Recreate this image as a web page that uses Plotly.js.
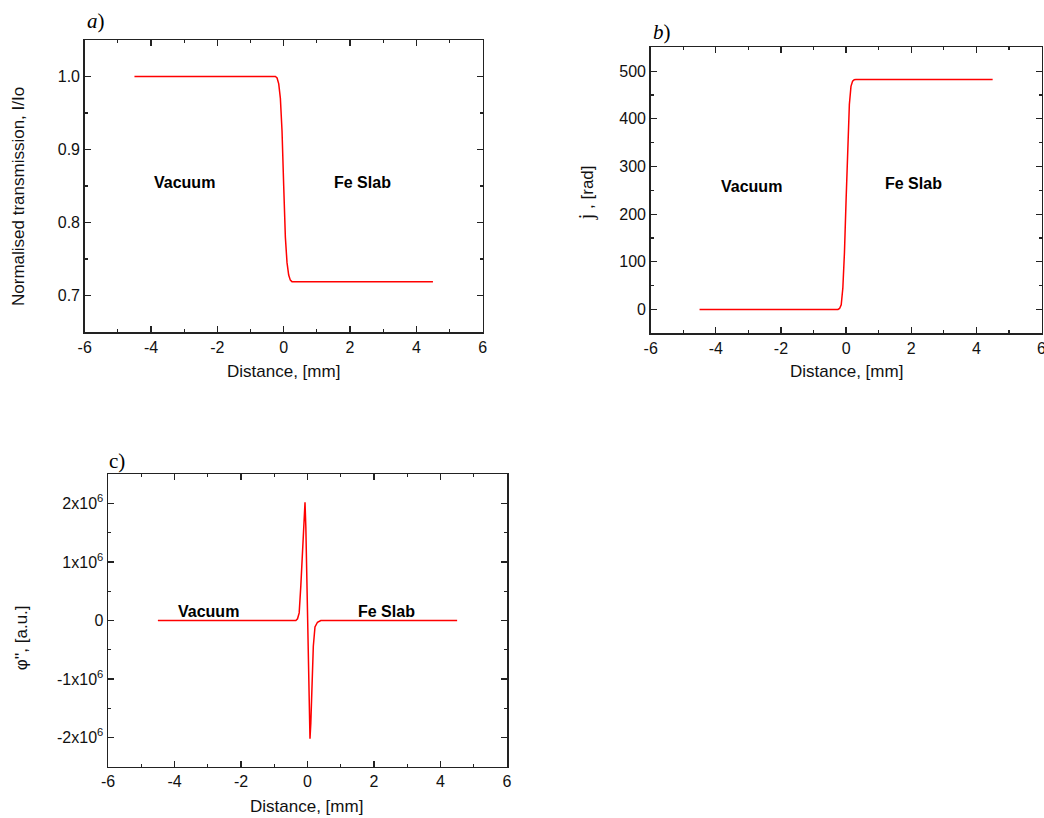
<!DOCTYPE html>
<html>
<head>
<meta charset="utf-8">
<script src="https://cdn.plot.ly/plotly-3.0.1.min.js"></script>
<style>html,body{margin:0;padding:0;background:#fff;}</style>
</head>
<body>
<div id="chart" style="width:1044px;height:818px;"></div>
<script>
// a) Normalised transmission
const distA = [-4.5, -0.25, -0.2, -0.15, -0.1, -0.05, 0, 0.05, 0.1, 0.15, 0.2, 0.25, 4.5];
const transA = [1.0, 1.0, 0.998, 0.99, 0.97, 0.925, 0.85, 0.78, 0.745, 0.728, 0.721, 0.719, 0.719];
// b) Phase
const distB = [-4.5, -0.25, -0.2, -0.15, -0.1, -0.05, 0, 0.05, 0.1, 0.15, 0.2, 0.25, 0.3, 4.5];
const phaseB = [0, 0, 2, 10, 45, 120, 230, 350, 430, 468, 479, 482, 482.5, 482.5];
// c) Second derivative of phase
const distC = [-4.5, -0.35, -0.3, -0.25, -0.2, -0.15, -0.1, -0.075, -0.05, -0.025, 0, 0.025, 0.05, 0.075, 0.1, 0.135, 0.175, 0.225, 0.3, 0.4, 4.5];
const phi2C = [0, 0, 0.03e6, 0.13e6, 0.6e6, 1.2e6, 1.85e6, 2.02e6, 1.6e6, 0.85e6, -0.15e6, -1.0e6, -1.7e6, -2.02e6, -1.75e6, -1.0e6, -0.44e6, -0.11e6, -0.03e6, 0, 0];

const xTicks = [-6, -4, -2, 0, 2, 4, 6];
const xTickText = ['-6', '-4', '-2', '0', '2', '4', '6'];
const yTicksA = [0.7, 0.8, 0.9, 1.0];
const yTickTextA = ['0.7', '0.8', '0.9', '1.0'];
const yTicksB = [0, 100, 200, 300, 400, 500];
const yTickTextB = ['0', '100', '200', '300', '400', '500'];
const yTicksC = [-2e6, -1e6, 0, 1e6, 2e6];
const yTickTextC = ['-2x10<sup>6</sup>', '-1x10<sup>6</sup>', '0', '1x10<sup>6</sup>', '2x10<sup>6</sup>'];

const W = 1044, H = 818;
const px = v => v / W;
const py = v => 1 - v / H;

const lineStyle = {color: '#ff0000', width: 1.5};
const traces = [
  {x: distA, y: transA, xaxis: 'x', yaxis: 'y', mode: 'lines', line: lineStyle, showlegend: false},
  {x: distB, y: phaseB, xaxis: 'x2', yaxis: 'y2', mode: 'lines', line: lineStyle, showlegend: false},
  {x: distC, y: phi2C, xaxis: 'x3', yaxis: 'y3', mode: 'lines', line: lineStyle, showlegend: false}
];

const tickFont = {family: 'Liberation Sans, Arial, sans-serif', size: 16, color: '#111'};
function xAxis(domain, anchor) {
  return {
    domain: domain, anchor: anchor, range: [-6, 6], tickvals: xTicks, ticktext: xTickText,
    ticks: 'inside', ticklen: 6, tickwidth: 1.2, tickcolor: '#222',
    minor: {dtick: 1, ticks: 'inside', ticklen: 3, tickwidth: 1.2, tickcolor: '#222', showgrid: false},
    showline: true, linecolor: '#222', linewidth: 1.5, mirror: 'ticks',
    showgrid: false, zeroline: false, tickfont: tickFont, fixedrange: true,
    ticklabeloverflow: 'allow'
  };
}
function yAxis(domain, anchor, range, vals, text, minorDtick) {
  return {
    domain: domain, anchor: anchor, range: range, tickvals: vals, ticktext: text,
    ticks: 'inside', ticklen: 6, tickwidth: 1.2, tickcolor: '#222',
    minor: {dtick: minorDtick, ticks: 'inside', ticklen: 3, tickwidth: 1.2, tickcolor: '#222', showgrid: false},
    showline: true, linecolor: '#222', linewidth: 1.5, mirror: 'ticks',
    showgrid: false, zeroline: false, tickfont: tickFont, fixedrange: true,
    ticklabeloverflow: 'allow'
  };
}

const boldFont = {family: 'Liberation Sans, Arial, sans-serif', size: 16, color: '#000'};
const titleFont = {family: 'Liberation Sans, Arial, sans-serif', size: 17, color: '#111'};
const panelFont = {family: 'Liberation Serif, Times New Roman, serif', size: 21, color: '#000'};

function paperText(text, x, y, font, angle) {
  return {text: text, xref: 'paper', yref: 'paper', x: px(x), y: py(y), xanchor: 'center', yanchor: 'middle', showarrow: false, font: font, textangle: angle || 0};
}
function dataText(text, xr, yr, x, y) {
  return {text: '<b>' + text + '</b>', xref: xr, yref: yr, x: x, y: y, xanchor: 'center', yanchor: 'middle', showarrow: false, font: boldFont};
}

const layout = {
  width: W, height: H,
  margin: {l: 0, r: 0, t: 0, b: 0},
  paper_bgcolor: '#fff', plot_bgcolor: '#fff',
  showlegend: false,
  xaxis: xAxis([px(84.7), px(482.7)], 'y'),
  yaxis: yAxis([py(332), py(40)], 'x', [0.65, 1.05], yTicksA, yTickTextA, 0.05),
  xaxis2: xAxis([px(650.7), px(1041.5)], 'y2'),
  yaxis2: yAxis([py(333.3), py(47.3)], 'x2', [-50, 550], yTicksB, yTickTextB, 50),
  xaxis3: xAxis([px(108), px(507)], 'y3'),
  yaxis3: yAxis([py(766.7), py(474.3)], 'x3', [-2.5e6, 2.5e6], yTicksC, yTickTextC, 0.5e6),
  annotations: [
    dataText('Vacuum', 'x', 'y', -3.0, 0.855),
    dataText('Fe Slab', 'x', 'y', 2.38, 0.855),
    dataText('Vacuum', 'x2', 'y2', -2.9, 259),
    dataText('Fe Slab', 'x2', 'y2', 2.06, 264),
    dataText('Vacuum', 'x3', 'y3', -2.97, 0.15e6),
    dataText('Fe Slab', 'x3', 'y3', 2.37, 0.15e6),
    paperText('Distance, [mm]', 283.5, 371, titleFont),
    paperText('Distance, [mm]', 846, 371, titleFont),
    paperText('Distance, [mm]', 306.7, 806.5, titleFont),
    paperText('Normalised transmission, I/Io', 18.3, 196.7, titleFont, -90),
    paperText('<span style="font-family:Liberation Serif;font-size:20px">j</span> , [rad]', 586.7, 192.5, titleFont, -90),
    paperText("φ'', [a.u.]", 21.7, 637.5, titleFont, -90),
    paperText('<i>a</i>)', 95.5, 21, panelFont),
    paperText('<i>b</i>)', 661.5, 32, panelFont),
    paperText('c)', 116.5, 460.7, panelFont)
  ]
};

Plotly.newPlot('chart', traces, layout, {staticPlot: true, displayModeBar: false});
</script>
</body>
</html>
